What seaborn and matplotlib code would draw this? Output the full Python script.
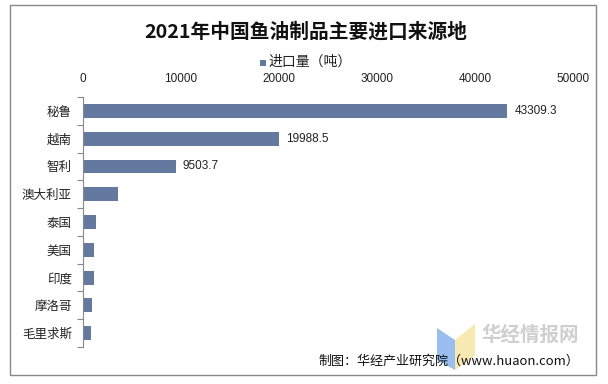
import matplotlib
matplotlib.use("Agg")
import matplotlib.pyplot as plt
import seaborn as sns
import pandas as pd
from matplotlib.patches import Rectangle, Polygon

countries = ["秘鲁", "越南", "智利", "澳大利亚", "泰国", "美国", "印度", "摩洛哥", "毛里求斯"]
values = [43309.3, 19988.5, 9503.7, 3550, 1300, 1100, 1080, 950, 850]
labels = ["43309.3", "19988.5", "9503.7", "", "", "", "", "", ""]
xticks = [0, 10000, 20000, 30000, 40000, 50000]

sns.set_theme(style="white")
plt.rcParams['font.family'] = ['Noto Sans CJK SC', 'DejaVu Sans']

df = pd.DataFrame({"country": countries, "value": values})
color = "#64799F"

fig = plt.figure(figsize=(6.08, 3.84), dpi=100)
ax = fig.add_axes([83/608, 1-347/384, (573-83)/608, (347-97)/384])
sns.barplot(data=df, x="value", y="country", orient="h", color=color,
            width=0.5, ax=ax, saturation=1, linewidth=0)

ax.set_xlim(0, 50000)
ax.set_xticks(xticks, [str(t) for t in xticks], family=["Liberation Sans"])
ax.xaxis.tick_top()
ax.tick_params(axis="x", length=0, pad=9, labelsize=8.5, colors="#222222")
ax.set_xlabel("")
ax.set_ylabel("")
ax.tick_params(axis="y", length=0, pad=8, labelsize=9, colors="#222222")
ax.set_yticks(range(len(countries)), countries)
ax.set_yticks([i - 0.5 for i in range(len(countries) + 1)], minor=True)
ax.tick_params(axis="y", which="minor", length=4, width=0.8, color="#888888", left=True)
for s in ["top", "right", "bottom"]:
    ax.spines[s].set_visible(False)
ax.spines["left"].set_color("#888888")
ax.spines["left"].set_linewidth(0.8)
ax.set_ylim(len(countries) - 0.5, -0.5)

for i, (v, lab) in enumerate(zip(values, labels)):
    if lab:
        ax.text(v + 700, i, lab, va="center", ha="left", fontsize=8.5,
                color="#222222", family=["Liberation Sans"])

fig.text(306/608, 1 - 32/384, "2021年中国鱼油制品主要进口来源地", ha="center", va="center",
         fontsize=14.2, fontweight="bold", color="#111111")
# legend
fig.patches.append(Rectangle((260/608, 1 - 66/384), 6/608, 6/384, transform=fig.transFigure,
                             facecolor=color, edgecolor="none"))
fig.text(268/608, 1 - 62/384, "进口量（吨）", ha="left", va="center", fontsize=10, color="#222222")

# border
fig.patches.append(Rectangle((10/608, 1 - 375/384), 586/608, 370/384, transform=fig.transFigure,
                             facecolor="none", edgecolor="#888888", linewidth=1))

# watermark
fig.patches.append(Polygon([(437/608, 1-328/384), (455/608, 1-340/384), (455/608, 1-370/384), (437/608, 1-360/384)],
                           closed=True, transform=fig.transFigure, facecolor="#8DB8EE", edgecolor="none", alpha=0.9))
fig.patches.append(Polygon([(455/608, 1-340/384), (475/608, 1-324/384), (475/608, 1-356/384), (455/608, 1-370/384)],
                           closed=True, transform=fig.transFigure, facecolor="#F8E7A8", edgecolor="none", alpha=0.9))
fig.text(530/608, 1 - 335/384, "华经情报网", ha="center", va="center", fontsize=14,
         fontweight="bold", color="#CFCFCF")

fig.text(579/608, 1 - 361/384, "制图：华经产业研究院（www.huaon.com）", ha="right", va="center",
         fontsize=9.4, color="#111111")

fig.savefig("out.png", dpi=100, facecolor="white")
